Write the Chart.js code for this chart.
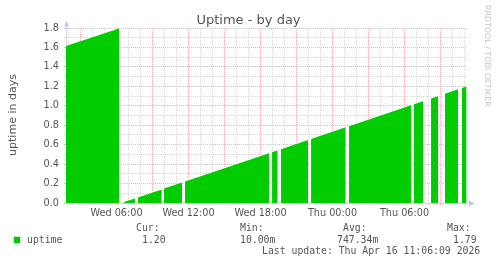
<!DOCTYPE html>
<html>
<head>
<meta charset="utf-8">
<title>Uptime - by day</title>
<script src="https://cdn.jsdelivr.net/npm/chart.js@4.4.1/dist/chart.umd.min.js"></script>
<style>
  html, body { margin: 0; padding: 0; background: #fff; }
  canvas { display: block; }
</style>
</head>
<body>
<canvas id="chart" width="497" height="264"></canvas>
<script>
// hours since Wed 00:00; null marks a gap (no data)
const hours = [1.79, 6.21, 6.4, 6.625, 7.54, 7.65, 7.79, 9.77, 9.85, 9.96, 11.46, 11.6,
    11.71, 18.71, 18.8, 18.96, 19.43, 19.55, 19.71, 21.96, 22.1, 22.21, 25.1, 25.2,
    25.375, 30.54, 30.65, 30.79, 31.54, 31.9, 32.21, 32.79, 33.1, 33.375, 34.46, 34.6,
    34.79, 35.17];
// uptime in days
const uptime = [1.614, 1.794, null, 0.010, 0.047, null, 0.057, 0.140, null, 0.148, 0.210, null,
    0.220, 0.512, null, 0.523, 0.542, null, 0.554, 0.648, null, 0.658, 0.779, null,
    0.790, 1.005, null, 1.016, 1.047, null, 1.075, 1.099, null, 1.124, 1.169, null,
    1.183, 1.198];

const tickHours = [6, 12, 18, 24, 30];
const tickLabels = ['Wed 06:00', 'Wed 12:00', 'Wed 18:00', 'Thu 00:00', 'Thu 06:00'];

const legendHeads = ['Cur:', 'Min:', 'Avg:', 'Max:'];
const legendValues = ['1.20', '10.00m', '747.34m', '1.79'];
const seriesName = 'uptime';
const lastUpdate = 'Last update: Thu Apr 16 11:06:09 2026';

const GREEN = '#00cc00';
const MAJOR = '#f2b4b4';
const MINOR = '#d8d8d8';
const AXIS = '#d0d0e6';
const ARROW = '#c4c4f4';
const TEXT = '#555';

Chart.defaults.font.family = 'DejaVu Sans';
Chart.defaults.font.size = 9.7;
Chart.defaults.color = TEXT;

// title, axis label, legend, arrows
const decorations = {
    id: 'decorations',
    afterDraw(chart) {
        const ctx = chart.ctx;
        const a = chart.chartArea;
        const ax = Math.round(a.left) + 0.5;
        const ay = Math.round(a.bottom) + 0.5;
        ctx.save();

        // axis extensions and arrows
        ctx.strokeStyle = AXIS;
        ctx.lineWidth = 1;
        ctx.beginPath();
        ctx.moveTo(ax, a.top);
        ctx.lineTo(ax, 26);
        ctx.moveTo(a.right, ay);
        ctx.lineTo(469, ay);
        ctx.stroke();
        ctx.fillStyle = ARROW;
        ctx.beginPath();
        ctx.moveTo(ax, 21);
        ctx.lineTo(ax - 2.5, 26.5);
        ctx.lineTo(ax + 2.5, 26.5);
        ctx.closePath();
        ctx.fill();
        ctx.beginPath();
        ctx.moveTo(474.5, ay);
        ctx.lineTo(469, ay - 3);
        ctx.lineTo(469, ay + 3);
        ctx.closePath();
        ctx.fill();

        // title
        ctx.fillStyle = TEXT;
        ctx.textBaseline = 'alphabetic';
        ctx.textAlign = 'center';
        ctx.font = '13px "DejaVu Sans"';
        ctx.fillText('Uptime - by day', 248.5, 24);

        // y axis label
        ctx.save();
        ctx.translate(15.5, 115);
        ctx.rotate(-Math.PI / 2);
        ctx.font = '11px "DejaVu Sans"';
        ctx.fillText('uptime in days', 0, 0);
        ctx.restore();

        // watermark
        ctx.save();
        ctx.translate(485, 5);
        ctx.rotate(Math.PI / 2);
        ctx.textAlign = 'left';
        ctx.fillStyle = '#c4c4c4';
        ctx.font = '7.9px "DejaVu Sans"';
        ctx.fillText('RRDTOOL / TOBI OETIKER', 0, 0);
        ctx.restore();

        // legend
        ctx.textAlign = 'left';
        ctx.font = '9.8px "DejaVu Sans Mono"';
        const headX = [136, 240, 343, 447];
        const valX = [142, 240, 337, 453];
        legendHeads.forEach((t, i) => ctx.fillText(t, headX[i], 231));
        legendValues.forEach((t, i) => ctx.fillText(t, valX[i], 242.5));
        ctx.fillText(seriesName, 27, 242.5);
        ctx.fillText(lastUpdate, 262, 254);
        ctx.fillStyle = GREEN;
        ctx.fillRect(14, 237, 6, 6);
        ctx.strokeStyle = '#e0e0e0';
        ctx.strokeRect(13.5, 236.5, 7, 7);

        ctx.restore();
    }
};

const ctx = document.getElementById('chart').getContext('2d');
new Chart(ctx, {
    type: 'line',
    data: {
        datasets: [{
            label: seriesName,
            data: hours.map((h, i) => ({ x: h, y: uptime[i] })),
            backgroundColor: GREEN,
            borderColor: 'rgba(0,0,0,0)',
            borderWidth: 0,
            pointRadius: 0,
            tension: 0,
            fill: 'origin',
            spanGaps: false
        }]
    },
    options: {
        responsive: false,
        animation: false,
        devicePixelRatio: 1,
        layout: { padding: { left: 0, top: 28, right: 30, bottom: 41 } },
        plugins: {
            legend: { display: false },
            title: { display: false },
            tooltip: { enabled: false }
        },
        scales: {
            x: {
                type: 'linear',
                min: 1.79,
                max: 35.2067,
                afterFit: scale => { scale.height = 20; },
                grid: {
                    color: c => (c.tick && c.tick.value % 3 === 0) ? MAJOR : MINOR,
                    tickColor: c => (c.tick && c.tick.value % 3 === 0) ? MAJOR : MINOR,
                    tickLength: 2
                },
                border: { color: AXIS, dash: [1, 1] },
                ticks: {
                    stepSize: 1,
                    includeBounds: false,
                    autoSkip: false,
                    maxRotation: 0,
                    minRotation: 0,
                    padding: 3,
                    callback: v => {
                        const i = tickHours.indexOf(v);
                        return i >= 0 ? tickLabels[i] : '';
                    }
                }
            },
            y: {
                min: 0,
                max: 1.8,
                afterFit: scale => { scale.width = 66; },
                grid: {
                    color: c => (c.tick && Math.round(c.tick.value * 10) % 2 === 0) ? MAJOR : MINOR,
                    tickColor: c => (c.tick && Math.round(c.tick.value * 10) % 2 === 0) ? MAJOR : MINOR,
                    tickLength: 2
                },
                border: { color: AXIS, dash: [1, 1] },
                ticks: {
                    stepSize: 0.1,
                    autoSkip: false,
                    padding: 5,
                    callback: v => Math.round(v * 10) % 2 === 0 ? v.toFixed(1) : ''
                }
            }
        }
    },
    plugins: [decorations]
});
</script>
</body>
</html>
